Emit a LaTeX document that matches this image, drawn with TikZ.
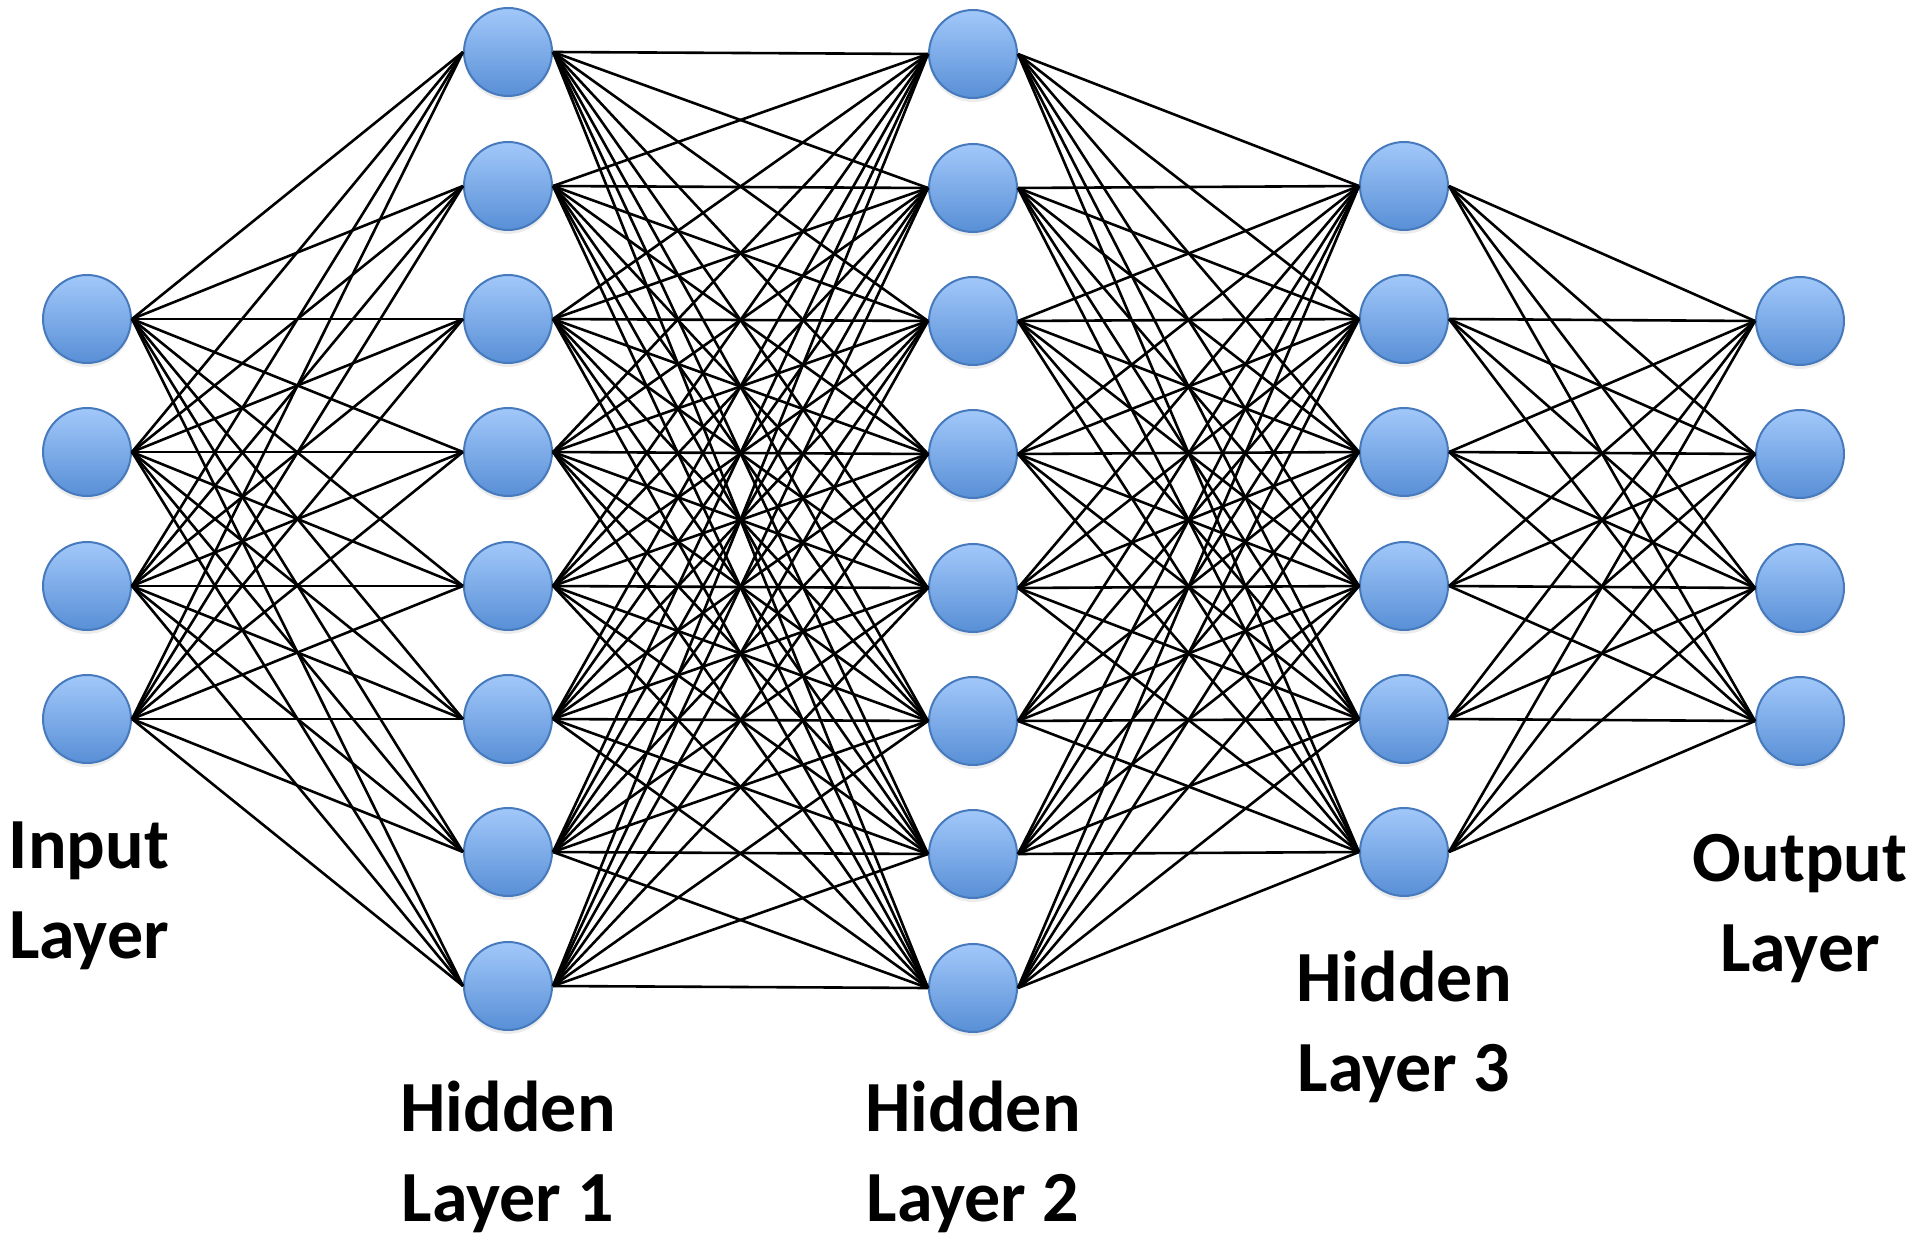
\documentclass[tikz,border=0pt]{standalone}
\usepackage{fontspec}
\setmainfont{Carlito}
\usetikzlibrary{shadows}
\definecolor{ntop}{RGB}{162,200,250}
\definecolor{nbot}{RGB}{88,143,214}
\definecolor{nborder}{RGB}{70,122,188}
\tikzset{
  neuron/.style={circle, minimum size=88pt, inner sep=0pt, draw=nborder, line width=2pt,
    top color=ntop, bottom color=nbot,
    drop shadow={opacity=0.15, shadow xshift=0pt, shadow yshift=-4pt}},
  conn/.style={line width=2.6pt, black},
  lbl/.style={font=\fontsize{72}{90}\selectfont\bfseries, align=center, inner sep=0pt}
}
\begin{document}
\begin{tikzpicture}[x=1pt,y=-1pt]
\useasboundingbox (0,0) rectangle (1920,1241);
% Input layer
\foreach \i/\y in {1/319,2/452,3/586,4/719}
  \node[neuron] (a\i) at (87,\y) {};
% Hidden layer 1
\foreach \i/\y in {1/52,2/186,3/319,4/452,5/586,6/719,7/852,8/986}
  \node[neuron] (b\i) at (508,\y) {};
% Hidden layer 2
\foreach \i/\y in {1/54,2/188,3/321,4/454,5/588,6/721,7/854,8/988}
  \node[neuron] (c\i) at (973,\y) {};
% Hidden layer 3
\foreach \i/\y in {1/186,2/319,3/452,4/586,5/719,6/852}
  \node[neuron] (d\i) at (1404,\y) {};
% Output layer
\foreach \i/\y in {1/321,2/454,3/588,4/721}
  \node[neuron] (e\i) at (1800,\y) {};
% Connections
\foreach \i in {1,...,4}
  \foreach \j in {1,...,8}
    \draw[conn] (a\i.east) -- (b\j.west);
\foreach \i in {1,...,8}
  \foreach \j in {1,...,8}
    \draw[conn] (b\i.east) -- (c\j.west);
\foreach \i in {1,...,8}
  \foreach \j in {1,...,6}
    \draw[conn] (c\i.east) -- (d\j.west);
\foreach \i in {1,...,6}
  \foreach \j in {1,...,4}
    \draw[conn] (d\i.east) -- (e\j.west);
% Labels
\node[lbl] (la) at (89,896) {Input\\Layer};
\node[lbl] (lb) at (508,1157) {Hidden\\Layer 1};
\node[lbl] (lc) at (973,1157) {Hidden\\Layer 2};
\node[lbl] (ld) at (1404,1027) {Hidden\\Layer 3};
\node[lbl] (le) at (1800,909) {Output\\Layer};
\end{tikzpicture}
\end{document}
